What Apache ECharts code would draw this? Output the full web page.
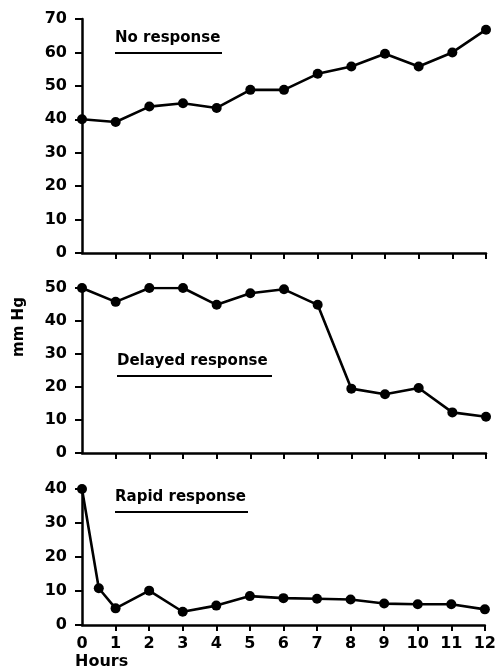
<!DOCTYPE html>
<html>
<head>
<meta charset="utf-8">
<script src="https://cdn.jsdelivr.net/npm/echarts@6/dist/echarts.min.js"></script>
<style>
html,body{margin:0;padding:0;background:#fff;}
#chart{width:499px;height:672px;}
</style>
</head>
<body>
<div id="chart"></div>
<script>
// hours (x) for the three panels
var hours = [0, 1, 2, 3, 4, 5, 6, 7, 8, 9, 10, 11, 12];
var rapidHours = [0, 0.5, 1, 2, 3, 4, 5, 6, 7, 8, 9, 10, 11, 12];
var hourTicks = [0, 1, 2, 3, 4, 5, 6, 7, 8, 9, 10, 11, 12];

// mm Hg values
var noResponse = [40, 39.2, 43.8, 44.8, 43.4, 48.8, 48.8, 53.6, 55.8, 59.6, 55.8, 60, 66.8];
var delayedResponse = [50, 45.8, 50, 50, 44.9, 48.4, 49.6, 44.9, 19.5, 17.8, 19.7, 12.3, 11];
var rapidResponse = [40, 10.8, 4.9, 10.1, 3.9, 5.7, 8.5, 7.9, 7.7, 7.5, 6.3, 6.1, 6.1, 4.6];

var panelNames = ["No response", "Delayed response", "Rapid response"];
var panelMax = [70, 50, 40];

var FONT = "DejaVu Sans";
var INK = "#000";

function pairs(xs, ys) {
    var out = [];
    for (let i = 0; i < ys.length; i++) {
        out.push([xs[i], ys[i]]);
    }
    return out;
}

function xAxisFor(idx, showLabels) {
    return {
        type: 'value',
        gridIndex: idx,
        min: 0,
        max: 12,
        interval: 1,
        splitLine: {show: false},
        axisLine: {show: true, onZero: false, lineStyle: {color: INK, width: 2.5}},
        axisTick: {show: true, length: 6, lineStyle: {color: INK, width: 2}, customValues: hourTicks.slice(1)},
        axisLabel: {
            show: showLabels,
            margin: 11,
            color: INK,
            fontFamily: FONT,
            fontWeight: 'bold',
            fontSize: 16,
            customValues: hourTicks
        }
    };
}

function yAxisFor(idx) {
    return {
        type: 'value',
        gridIndex: idx,
        min: 0,
        max: panelMax[idx],
        interval: 10,
        splitLine: {show: false},
        axisLine: {show: true, lineStyle: {color: INK, width: 2.5}},
        axisTick: {show: true, length: 7, lineStyle: {color: INK, width: 2}},
        axisLabel: {
            margin: 15,
            color: INK,
            fontFamily: FONT,
            fontWeight: 'bold',
            fontSize: 16
        }
    };
}

function seriesFor(idx, data) {
    return {
        type: 'line',
        xAxisIndex: idx,
        yAxisIndex: idx,
        data: data,
        symbol: 'circle',
        symbolSize: 10,
        showSymbol: true,
        animation: false,
        itemStyle: {color: INK},
        lineStyle: {color: INK, width: 2.6}
    };
}

// underlined panel captions
function caption(text, left, top, lineWidth) {
    return {
        type: 'group',
        left: left,
        top: top,
        children: [
            {
                type: 'text',
                left: 0,
                top: 0,
                style: {text: text, fill: INK, font: 'bold 15px "' + FONT + '"'}
            },
            {
                type: 'rect',
                left: 0,
                top: 21,
                shape: {width: lineWidth, height: 2},
                style: {fill: INK}
            }
        ]
    };
}

var chart = echarts.init(document.getElementById("chart"), null, {renderer: 'canvas'});

var option = {
    backgroundColor: '#fff',
    animation: false,
    grid: [
        {left: 82, top: 19, width: 404, height: 234},
        {left: 82, top: 288, width: 404, height: 165},
        {left: 82, top: 489, width: 404, height: 136}
    ],
    xAxis: [xAxisFor(0, false), xAxisFor(1, false), xAxisFor(2, true)],
    yAxis: [yAxisFor(0), yAxisFor(1), yAxisFor(2)],
    series: [
        seriesFor(0, pairs(hours, noResponse)),
        seriesFor(1, pairs(hours, delayedResponse)),
        seriesFor(2, pairs(rapidHours, rapidResponse))
    ],
    graphic: [
        caption(panelNames[0], 115, 31, 107),
        caption(panelNames[1], 117, 354, 155),
        caption(panelNames[2], 115, 490, 133),
        {
            type: 'text',
            x: 19,
            y: 327,
            rotation: Math.PI / 2,
            style: {text: 'mm Hg', fill: INK, font: 'bold 15px "' + FONT + '"', align: 'center', verticalAlign: 'middle'}
        },
        {
            type: 'text',
            left: 75,
            top: 654,
            style: {text: 'Hours', fill: INK, font: 'bold 16px "' + FONT + '"'}
        }
    ]
};

chart.setOption(option);
</script>
</body>
</html>
